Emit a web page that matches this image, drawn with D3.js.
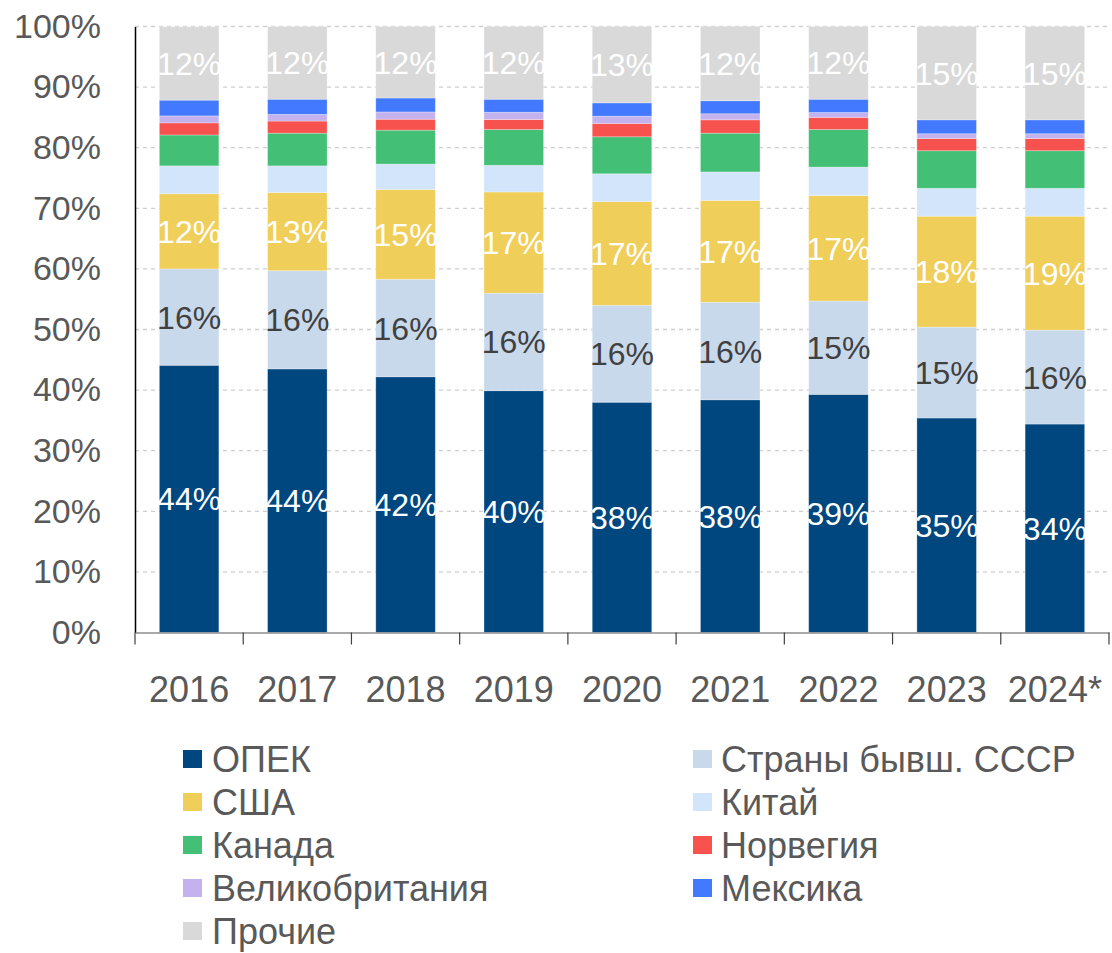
<!DOCTYPE html>
<html>
<head>
<meta charset="utf-8">
<script src="https://cdn.jsdelivr.net/npm/d3@7"></script>
<style>
  html, body { margin: 0; padding: 0; background: #fff; }
  svg { display: block; font-family: "Liberation Sans", Arial, sans-serif; }
</style>
</head>
<body>
<svg id="chart" width="1112" height="953"></svg>
<script>
// ---- Data ----
const years = ["2016", "2017", "2018", "2019", "2020", "2021", "2022", "2023", "2024*"];
const seriesNames = ["ОПЕК", "Страны бывш. СССР", "США", "Китай", "Канада", "Норвегия", "Великобритания", "Мексика", "Прочие"];
const seriesColors = ["#00467F", "#C9D9EC", "#F0CE5A", "#D3E5FB", "#43BF76", "#F8524E", "#C4B2EE", "#4279FF", "#D9D9D9"];
const opec   = [44.1, 43.5, 42.2, 39.9, 38.0, 38.4, 39.3, 35.4, 34.4];
const ussr   = [15.9, 16.2, 16.1, 16.1, 16.0, 16.1, 15.4, 15.0, 15.5];
const usa    = [12.4, 12.9, 14.8, 16.7, 17.1, 16.8, 17.4, 18.3, 18.8];
const china  = [4.6, 4.4, 4.2, 4.4, 4.6, 4.7, 4.7, 4.6, 4.6];
const canada = [5.1, 5.4, 5.6, 5.9, 6.1, 6.4, 6.2, 6.2, 6.2];
const norway = [2.0, 2.0, 1.8, 1.65, 2.2, 2.2, 2.0, 2.0, 2.0];
const uk     = [1.15, 1.1, 1.2, 1.2, 1.2, 1.0, 0.8, 0.8, 0.8];
const mexico = [2.6, 2.5, 2.3, 2.15, 2.2, 2.15, 2.2, 2.3, 2.3];
const others = [12.1, 12.0, 11.8, 12.0, 12.6, 12.3, 12.0, 15.4, 15.4];
const seriesValues = [opec, ussr, usa, china, canada, norway, uk, mexico, others];
const labeledSeries = [0, 1, 2, 8];           // series that show value labels
const yTicks = [0, 10, 20, 30, 40, 50, 60, 70, 80, 90, 100];

// ---- Layout ----
const svg = d3.select("#chart");
const pLeft = 135, pRight = 1109, pTop = 26.5, pBottom = 632.5;

const x = d3.scaleBand().domain(years).range([pLeft, pRight]).paddingInner(0.45).paddingOuter(0.225);
const y = d3.scaleLinear().domain([0, 100]).range([pBottom, pTop]);

// table for stacking
const table = years.map((yr, i) => {
  const row = { year: yr };
  seriesNames.forEach((s, j) => row[s] = seriesValues[j][i]);
  return row;
});
const stack = d3.stack().keys(seriesNames)(table);

// gridlines
svg.append("g").selectAll("line").data(yTicks.filter(d => d > 0)).join("line")
  .attr("x1", pLeft).attr("x2", pRight)
  .attr("y1", d => y(d)).attr("y2", d => y(d))
  .attr("stroke", "#cfcfcf").attr("stroke-width", 1.3).attr("stroke-dasharray", "4,4");

// bars
const layers = svg.append("g").selectAll("g").data(stack).join("g")
  .attr("fill", (d, i) => seriesColors[i]);
layers.selectAll("rect").data(d => d).join("rect")
  .attr("x", d => x(d.data.year))
  .attr("width", x.bandwidth())
  .attr("y", d => y(d[1]))
  .attr("height", d => y(d[0]) - y(d[1]))
  .attr("stroke", "rgba(255,255,255,0.35)").attr("stroke-width", 0.8);

// value labels
const lbl = svg.append("g").attr("text-anchor", "middle").style("font-size", "32px");
labeledSeries.forEach(si => {
  lbl.selectAll(null).data(stack[si]).join("text")
    .attr("x", d => x(d.data.year) + x.bandwidth() / 2)
    .attr("y", d => y((d[0] + d[1]) / 2))
    .attr("dy", "0.36em")
    .attr("fill", si === 1 ? "#404040" : "#ffffff")
    .text(d => Math.round(d[1] - d[0]) + "%");
});

// y axis
const yAxis = d3.axisLeft(y).tickValues(yTicks).tickSize(0).tickPadding(34).tickFormat(d => d + "%");
const gy = svg.append("g").attr("transform", `translate(${pLeft},0)`).call(yAxis);
gy.select(".domain").attr("stroke", "#000").attr("stroke-width", 1.5);
gy.selectAll("text").style("font-size", "34px").attr("fill", "#595959").attr("font-family", "Liberation Sans, Arial, sans-serif");

// x axis
const xAxis = d3.axisBottom(x).tickSize(0).tickPadding(44);
const gx = svg.append("g").attr("transform", `translate(0,${pBottom})`).call(xAxis);
gx.select(".domain").attr("stroke", "#8c8c8c").attr("stroke-width", 1.5);
gx.selectAll("text").style("font-size", "36px").attr("fill", "#595959").attr("font-family", "Liberation Sans, Arial, sans-serif");
// band-boundary tick marks
const bounds = years.map(yv => x(yv) - x.step() * x.paddingInner() / 2);
bounds.push(pRight);
gx.append("g").selectAll("line").data(bounds).join("line")
  .attr("x1", d => d).attr("x2", d => d).attr("y1", 0).attr("y2", 12)
  .attr("stroke", "#404040").attr("stroke-width", 1.2);

// legend
const legendPos = seriesNames.map((s, i) => ({
  name: s, color: seriesColors[i],
  col: i === 8 ? 0 : i % 2, row: Math.floor(i / 2)
}));
const lg = svg.append("g");
const item = lg.selectAll("g").data(legendPos).join("g")
  .attr("transform", d => `translate(${d.col === 0 ? 183 : 693},${759 + d.row * 43})`);
item.append("rect").attr("x", 0).attr("y", -9).attr("width", 19).attr("height", 18).attr("fill", d => d.color);
item.append("text").attr("x", d => d.col === 0 ? 29 : 28).attr("y", 0).attr("dy", "0.36em")
  .style("font-size", "36px").attr("fill", "#595959").text(d => d.name);
</script>
</body>
</html>
